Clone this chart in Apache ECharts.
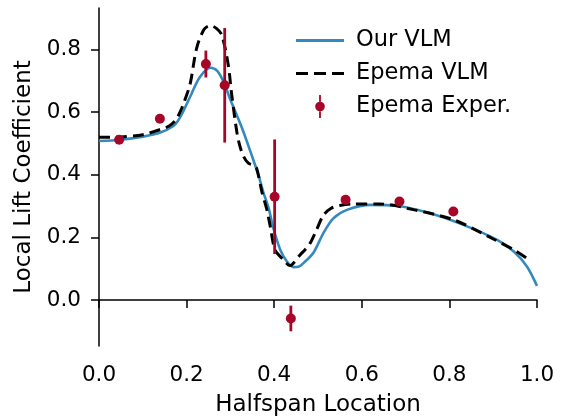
<!DOCTYPE html>
<html>
<head>
<meta charset="utf-8">
<script src="https://cdn.jsdelivr.net/npm/echarts@6/dist/echarts.min.js"></script>
<style>
html,body{margin:0;padding:0;background:#fff;}
#chart{width:563px;height:418px;}
</style>
</head>
<body>
<div id="chart"></div>
<script>
// Our VLM (blue solid)
const ourX = [0, 0.05, 0.1, 0.14, 0.17, 0.18, 0.19, 0.21, 0.23, 0.255, 0.27, 0.285, 0.3, 0.325, 0.35, 0.365, 0.375, 0.387, 0.398, 0.414, 0.429, 0.444, 0.455, 0.47, 0.49, 0.512, 0.535, 0.566, 0.62, 0.68, 0.756, 0.832, 0.909, 0.947, 0.977, 1.0];
const ourY = [0.508, 0.512, 0.522, 0.535, 0.556, 0.572, 0.596, 0.655, 0.712, 0.742, 0.732, 0.695, 0.64, 0.555, 0.457, 0.395, 0.345, 0.295, 0.23, 0.16, 0.123, 0.105, 0.106, 0.122, 0.152, 0.213, 0.261, 0.288, 0.304, 0.301, 0.277, 0.24, 0.192, 0.155, 0.107, 0.045];
// Epema VLM (black dashed)
const epX = [0, 0.05, 0.1, 0.14, 0.16, 0.175, 0.185, 0.195, 0.208, 0.223, 0.24, 0.254, 0.268, 0.28, 0.295, 0.303, 0.315, 0.322, 0.33, 0.341, 0.353, 0.36, 0.372, 0.383, 0.391, 0.402, 0.421, 0.432, 0.437, 0.444, 0.459, 0.47, 0.482, 0.497, 0.512, 0.53, 0.55, 0.58, 0.64, 0.72, 0.81, 0.9, 0.95, 0.977];
const epY = [0.52, 0.521, 0.528, 0.545, 0.556, 0.575, 0.6, 0.635, 0.69, 0.805, 0.865, 0.877, 0.868, 0.848, 0.752, 0.656, 0.534, 0.49, 0.459, 0.437, 0.43, 0.42, 0.345, 0.29, 0.235, 0.16, 0.128, 0.112, 0.11, 0.118, 0.144, 0.16, 0.181, 0.225, 0.27, 0.293, 0.302, 0.307, 0.307, 0.288, 0.256, 0.195, 0.158, 0.133];
// Epema Exper. (points with error bars)
const expX = [0.046, 0.139, 0.244, 0.287, 0.401, 0.438, 0.563, 0.686, 0.809];
const expY = [0.512, 0.579, 0.754, 0.686, 0.330, -0.059, 0.320, 0.315, 0.283];
const expErr = [0, 0, 0.043, 0.183, 0.183, 0.041, 0, 0, 0];

const xTicks = [0, 0.2, 0.4, 0.6, 0.8, 1.0];
const yTicks = [0, 0.2, 0.4, 0.6, 0.8];

const FONT = 'DejaVu Sans';
const BLUE = '#348ABD', RED = '#A60628';

const ourData = ourX.map((x, i) => [x, ourY[i]]);
const epData = epX.map((x, i) => [x, epY[i]]);
const expData = expX.map((x, i) => [x, expY[i], expErr[i]]);

const chart = echarts.init(document.getElementById('chart'), null, {renderer: 'canvas'});
const axisCommon = {
  axisLine: {show: true, lineStyle: {color: '#000', width: 1.5}},
  axisTick: {show: true, inside: false, length: 8, lineStyle: {color: '#000', width: 1.5}},
  splitLine: {show: false},
  nameTextStyle: {fontFamily: FONT, fontSize: 23, color: '#000'}
};
chart.setOption({
  animation: false,
  backgroundColor: '#fff',
  grid: {left: 99, right: 26, top: 8, bottom: 72, containLabel: false, outerBoundsMode: 'none'},
  xAxis: Object.assign({}, axisCommon, {
    type: 'value', min: 0, max: 1,
    name: 'Halfspan Location', nameLocation: 'middle', nameGap: 48,
    axisTick: Object.assign({}, axisCommon.axisTick, {customValues: xTicks}),
    axisLabel: {customValues: xTicks, margin: 18, fontFamily: FONT, fontSize: 21.5, color: '#000', formatter: v => v.toFixed(1)}
  }),
  yAxis: Object.assign({}, axisCommon, {
    type: 'value', min: -0.147, max: 0.933,
    name: 'Local Lift Coefficient', nameLocation: 'middle', nameGap: 61, nameRotate: 90,
    axisTick: Object.assign({}, axisCommon.axisTick, {customValues: yTicks}),
    axisLabel: {customValues: yTicks, margin: 18, fontFamily: FONT, fontSize: 21.5, color: '#000', formatter: v => v.toFixed(1)}
  }),
  legend: {
    orient: 'vertical', left: 291, top: 24,
    itemWidth: 48, itemHeight: 23, itemGap: 10,
    textStyle: {fontFamily: FONT, fontSize: 22.5, color: '#000', padding: [0, 0, 0, 7]},
    data: [
      {name: 'Our VLM', icon: 'path://M0,0 L48,0 L48,2.8 L0,2.8 Z', itemStyle: {color: BLUE, borderWidth: 0}, lineStyle: {width: 0}},
      {name: 'Epema VLM', icon: 'path://M0,0 L12,0 L12,3 L0,3 Z M18,0 L30,0 L30,3 L18,3 Z M36,0 L48,0 L48,3 L36,3 Z', itemStyle: {color: '#000', borderWidth: 0}, lineStyle: {width: 0}},
      {name: 'Epema Exper.', icon: 'path://M4.2,0 L5.8,0 L5.8,6 L4.2,6 Z M4.2,14 L5.8,14 L5.8,20 L4.2,20 Z M0.8,10 A4.2,4.2 0 1 0 9.2,10 A4.2,4.2 0 1 0 0.8,10 Z', itemStyle: {color: RED, borderWidth: 0}}
    ]
  },
  series: [
    {
      name: 'Our VLM', type: 'line', data: ourData, symbol: 'none', smooth: 0.3,
      lineStyle: {color: BLUE, width: 2.6}, itemStyle: {color: BLUE}, z: 2
    },
    {
      name: 'Epema VLM', type: 'line', data: epData, symbol: 'none', smooth: 0.3,
      lineStyle: {color: '#000', width: 3, type: [11, 6]}, itemStyle: {color: '#000'}, z: 3
    },
    {
      name: 'Epema Exper.', type: 'custom', data: expData, z: 4,
      itemStyle: {color: RED},
      encode: {x: 0, y: 1},
      renderItem: function (params, api) {
        const x = api.value(0), y = api.value(1), e = api.value(2);
        const c = api.coord([x, y]);
        const children = [];
        if (e > 0) {
          const top = api.coord([x, y + e]);
          const bot = api.coord([x, y - e]);
          children.push({type: 'line', shape: {x1: top[0], y1: top[1], x2: bot[0], y2: bot[1]}, style: {stroke: RED, lineWidth: 2.8}});
        }
        children.push({type: 'circle', shape: {cx: c[0], cy: c[1], r: 5}, style: {fill: RED}});
        return {type: 'group', children: children};
      }
    }
  ]
});
</script>
</body>
</html>
